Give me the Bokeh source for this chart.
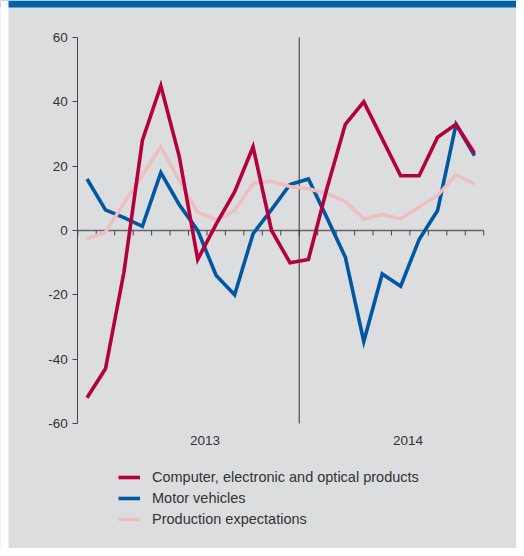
from bokeh.plotting import figure
from bokeh.models import LinearAxis, FixedTicker, Legend, LegendItem, BoxAnnotation
from bokeh.core.properties import value
from bokeh.embed import file_html
from bokeh.resources import INLINE

# ---- data (monthly balances, Jan 2013 - Oct 2014) ----
years = ["2013", "2014"]
months_per_year = [12, 10]
computer = [-52, -43, -13, 28, 45, 23, -9, 2, 12, 26, 0, -10,
            -9, 13, 33, 40, 28.5, 17, 17, 29, 33, 24]
motor = [16, 6.4, 4, 1.3, 18, 8, 0, -14, -20, -1, 6.5, 14.3,
         16, 4, -8.3, -34.5, -13.5, -17.3, -2.8, 6.2, 33, 23.3]
expectations = [-2.6, -0.5, 8.5, 17, 26, 15.5, 5.7, 3.3, 6.2, 14.7, 15.3, 13.7,
                13, 11.5, 9, 3.6, 5, 3.6, 7.3, 10.9, 17.3, 14.5]
y_ticks = [-60, -40, -20, 0, 20, 40, 60]
series_names = ["Computer, electronic and optical products", "Motor vehicles",
                "Production expectations"]
series_colors = ["#B4003D", "#0057A2", "#EEBFBE"]

n = len(computer)
x = [i + 0.5 for i in range(n)]

W, H = 516, 548
px_x = 18.45          # pixels per month
px_y = 386 / 120.0    # pixels per unit
x0_px = 77.3          # pixel position of month 0 within figure
y0_px = 230.0         # pixel (from top) of value 0
x_start = -x0_px / px_x
x_end = x_start + W / px_x
y_end = y0_px / px_y
y_start = y_end - H / px_y

bg = "#DCDDDF"
p = figure(width=W, height=H, output_backend="svg", toolbar_location=None,
           x_range=(x_start, x_end), y_range=(y_start, y_end),
           x_axis_type=None, y_axis_type=None, min_border=0,
           background_fill_color=bg, border_fill_color=bg, outline_line_color=None)
p.grid.visible = False

# header band and white left strip (page decoration)
p.add_layout(BoxAnnotation(bottom=y_end - 7 / px_y, fill_color="#0062AC",
                           fill_alpha=1, line_color=None))
p.add_layout(BoxAnnotation(right=x_start + 8 / px_x, fill_color="white",
                           fill_alpha=1, line_color=None))

font = "Liberation Sans"
# y axis
yax = LinearAxis(ticker=FixedTicker(ticks=y_ticks), fixed_location=0, bounds=(-60, 60))
yax.axis_line_color = "#444444"
yax.axis_line_width = 1
yax.major_tick_line_color = "#444444"
yax.major_tick_out = 5
yax.major_tick_in = 0
yax.minor_tick_line_color = None
yax.major_label_standoff = 5
yax.major_label_text_font = font
yax.major_label_text_font_size = "13.5px"
yax.major_label_text_color = "#333333"
yax.major_label_overrides = {v: str(v) for v in y_ticks}
p.add_layout(yax, "left")

# x axis line at value 0 with month ticks
month_ticks = list(range(n + 1))
p.segment(x0=[0], y0=[0], x1=[n], y1=[0], line_color="#666666", line_width=1.6)
p.segment(x0=month_ticks, y0=[0] * len(month_ticks), x1=month_ticks,
          y1=[-5 / px_y] * len(month_ticks), line_color="#444444", line_width=1)

# year divider
boundary = months_per_year[0]
p.segment(x0=[boundary], y0=[y_ticks[0]], x1=[boundary], y1=[y_ticks[-1]],
          line_color="#333333", line_width=1)

# year labels
starts = [0, months_per_year[0]]
year_x = [s + m / 2 + 0.9 for s, m in zip(starts, months_per_year)]
p.text(x=year_x, y=[-65.3] * 2, text=years, text_font=value(font),
       text_font_size="13.5px", text_color="#333333", text_align="center",
       text_baseline="middle")

r_mot = p.line(x, motor, line_color=series_colors[1], line_width=3.6, line_join="miter")
r_exp = p.line(x, expectations, line_color=series_colors[2], line_width=3.6, line_join="miter")
r_comp = p.line(x, computer, line_color=series_colors[0], line_width=3.6, line_join="miter")

legend = Legend(items=[LegendItem(label=series_names[0], renderers=[r_comp]),
                       LegendItem(label=series_names[1], renderers=[r_mot]),
                       LegendItem(label=series_names[2], renderers=[r_exp])],
                location=(118, 19), orientation="vertical")
legend.background_fill_alpha = 0
legend.border_line_color = None
legend.padding = 0
legend.margin = 0
legend.spacing = 1
legend.label_height = 20
legend.glyph_height = 20
legend.glyph_width = 22
legend.label_standoff = 12
legend.label_text_font = font
legend.label_text_font_size = "14.5px"
legend.label_text_color = "#333333"
p.add_layout(legend, "center")

open("out.html", "w").write(file_html(p, INLINE))
